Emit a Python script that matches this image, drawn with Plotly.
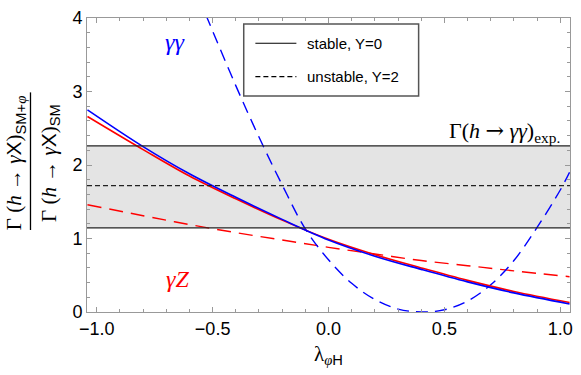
import plotly.graph_objects as go

# coupling values
lam = [-1.04, -0.8, -0.6, -0.4, -0.2, 0.0, 0.2, 0.4, 0.6, 0.8, 1.04]
aa_stable = [2.75, 2.25, 1.88, 1.56, 1.26, 0.98, 0.76, 0.58, 0.41, 0.26, 0.11]
az_stable = [2.66, 2.21, 1.85, 1.54, 1.25, 0.99, 0.78, 0.60, 0.43, 0.28, 0.13]
az_unstable = [1.46, 1.31, 1.19, 1.08, 0.98, 0.88, 0.79, 0.70, 0.63, 0.56, 0.48]

lam_aa = [-0.53, -0.4, -0.3, -0.2, -0.1, 0.0, 0.1, 0.2, 0.3, 0.4, 0.5, 0.6, 0.7, 0.8, 0.9, 1.0, 1.04]
aa_unstable = [4.05, 3.08, 2.38, 1.73, 1.13, 0.71, 0.39, 0.17, 0.04, 0.0, 0.03, 0.15, 0.37, 0.70, 1.15, 1.66, 1.90]

# experimental band for h -> gamma gamma
band_lo, band_mid, band_hi = 1.145, 1.72, 2.26

BLUE = "#0000ff"
RED = "#ff0000"
SERIF = "Liberation Serif"
SANS = "Liberation Sans"

fig = go.Figure()

fig.add_hrect(y0=band_lo, y1=band_hi, fillcolor="#e4e4e4", line_width=0, layer="below")
fig.add_hline(y=band_lo, line_color="#222", line_width=1.3)
fig.add_hline(y=band_hi, line_color="#222", line_width=1.3)
fig.add_hline(y=band_mid, line_color="#222", line_width=1.3, line_dash="5px,3px")

fig.add_trace(go.Scatter(x=lam, y=az_unstable, mode="lines", line=dict(color=RED, width=1.4, dash="14px,8px"),
                         line_shape="spline"))
fig.add_trace(go.Scatter(x=lam_aa, y=aa_unstable, mode="lines", line=dict(color=BLUE, width=1.4, dash="12px,7px"),
                         line_shape="spline"))
fig.add_trace(go.Scatter(x=lam, y=az_stable, mode="lines", line=dict(color=RED, width=1.6), line_shape="spline"))
fig.add_trace(go.Scatter(x=lam, y=aa_stable, mode="lines", line=dict(color=BLUE, width=1.6), line_shape="spline"))

axis_common = dict(
    showline=True, linecolor="#999", linewidth=1, mirror="allticks",
    ticks="inside", ticklen=5, tickcolor="#999",
    showgrid=False, zeroline=False, ticklabeloverflow="allow",
    tickfont=dict(family=SANS, size=18, color="black"),
)
fig.update_xaxes(range=[-1.042, 1.042], tickvals=[-1.0, -0.5, 0.0, 0.5, 1.0],
                 ticktext=["\u22121.0", "\u22120.5", "0.0", "0.5", "1.0"],
                 minor=dict(dtick=0.1, ticks="inside", ticklen=3, tickcolor="#999"), **axis_common)
fig.update_yaxes(range=[0, 4], tickvals=[0, 1, 2, 3, 4],
                 minor=dict(dtick=0.2, ticks="inside", ticklen=3, tickcolor="#999"), **axis_common)


def note(x, y, text, size, color="black", family=SERIF, **kw):
    opts = dict(xref="paper", yref="paper", x=x, y=y, text=text, showarrow=False,
                xanchor="center", yanchor="middle", font=dict(family=family, size=size, color=color))
    opts.update(kw)
    fig.add_annotation(**opts)


# hand-drawn legend box
fig.add_shape(type="rect", xref="paper", yref="paper", x0=0.3245, x1=0.6866, y0=0.7348, y1=0.980,
              line=dict(color="#555", width=1.5), fillcolor="white")
fig.add_shape(type="line", xref="paper", yref="paper", x0=0.3486, x1=0.4335, y0=0.9142, y1=0.9142,
              line=dict(color="black", width=1.2))
fig.add_shape(type="line", xref="paper", yref="paper", x0=0.3486, x1=0.4335, y0=0.8006, y1=0.8006,
              line=dict(color="black", width=1.2, dash="5px,3px"))
note(0.4514, 0.9142, "stable, Y=0", 15, family=SANS, xanchor="left")
note(0.4514, 0.8006, "unstable, Y=2", 15, family=SANS, xanchor="left")

# curve labels
note(0.1805, 0.9175, "<i>γγ</i>", 24, color=BLUE)
note(0.1866, 0.1126, "<i>γZ</i>", 24, color=RED)
arrow = '<span style="font-family:DejaVu Serif">→</span>'
note(0.983, 0.6136, "Γ(<i>h</i> " + arrow + " <i>γγ</i>)<sub>exp.</sub>", 22, xanchor="right")

# y-axis title as a fraction
sans_span = '<span style="font-family:Liberation Sans">%s</span>'
num = "Γ (<i>h</i> → <i>γ</i>" + sans_span % "X" + ")<sub>" + sans_span % "SM+" + "<i>φ</i></sub>"
den = "Γ (<i>h</i> → <i>γ</i>" + sans_span % "X" + ")<sub>" + sans_span % "SM" + "</sub>"
note(-0.1488, 0.5067, num, 21, textangle=-90)
note(-0.0767, 0.5067, den, 21, textangle=-90)
fig.add_shape(type="line", xref="paper", yref="paper", x0=-0.117, x1=-0.117, y0=0.279, y1=0.747,
              line=dict(color="black", width=1.3))

# x-axis title
note(0.4994, -0.1446, "λ<sub><i>φ</i>" + sans_span % "H" + "</sub>", 21)

fig.update_layout(
    width=581, height=375,
    margin=dict(l=87, r=8, t=12, b=63),
    plot_bgcolor="white", paper_bgcolor="white",
    showlegend=False,
)

# drop the default page margin so the figure sits at the window corner
fig.write_html("out.html", config={"displayModeBar": False},
               post_script="document.body.style.margin='0';")
